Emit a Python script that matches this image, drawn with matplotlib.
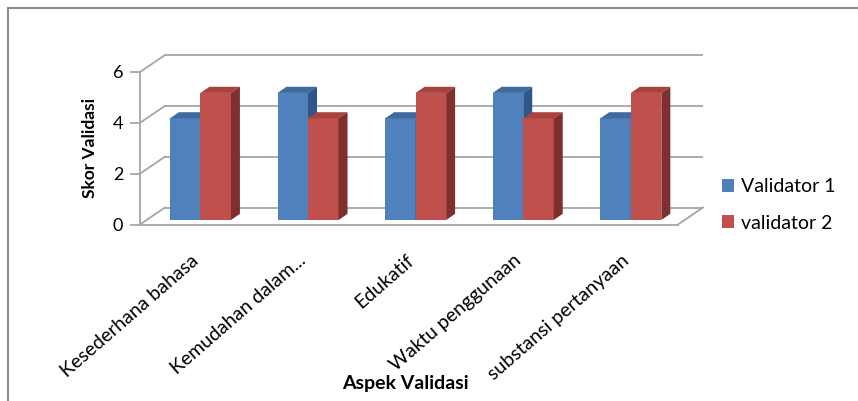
import numpy as np
import matplotlib
matplotlib.use("Agg")
import matplotlib.pyplot as plt
from matplotlib.patches import Polygon, Patch
from matplotlib.lines import Line2D

plt.rcParams['font.family'] = ['Lato', 'DejaVu Sans']

# data
categories = ["Kesederhana bahasa", "Kemudahan dalam...", "Edukatif",
              "Waktu penggunaan", "substansi pertanyaan"]
validator1 = [4, 5, 4, 5, 4]
validator2 = [5, 4, 5, 4, 5]
series_names = ["Validator 1", "validator 2"]
yticks = [0, 2, 4, 6]

# colours (front, top, side)
blue = ("#4F81BD", "#3E6A9E", "#2F5688")
red = ("#C0504D", "#A8423F", "#7D302E")
grid_c = "#A6A6A6"

W, H = 858, 401
fig = plt.figure(figsize=(W / 100, H / 100), dpi=100)

# front plane of the 3d box, in pixels
x0p, x1p, y0p, y1p = 140, 678, 224.5, 72
ax = fig.add_axes([x0p / W, 1 - y0p / H, (x1p - x0p) / W, (y0p - y1p) / H])
ax.set_xlim(-0.5, 4.5)
ax.set_ylim(0, 6)

# depth of the box in data units
px_x = (x1p - x0p) / 5.0
px_y = (y0p - y1p) / 6.0
dx = 25 / px_x
dy = 17 / px_y

# walls / gridlines
for v in yticks:
    ax.plot([-0.5 + dx, 4.5 + dx], [v + dy, v + dy], color=grid_c, lw=1.3,
            clip_on=False, zorder=1, solid_capstyle='butt')
    ax.plot([-0.5, -0.5 + dx], [v, v + dy], color=grid_c, lw=1.3,
            clip_on=False, zorder=1)
ax.plot([4.5, 4.5 + dx], [0, dy], color=grid_c, lw=1.3, clip_on=False, zorder=1)

# bars
bw = 30.5 / px_x
f0, f1 = 0.265, 0.625
bdx, bdy = (f1 - f0) * dx, (f1 - f0) * dy
sx, sy = f0 * dx, f0 * dy
xs = np.arange(len(categories))

for i in range(len(categories)):
    for vals, col, off in ((validator1, blue, -bw), (validator2, red, 0.0)):
        xl = xs[i] + off + sx
        xr = xl + bw
        bot = sy
        top = sy + vals[i]
        ax.bar(xl, vals[i], width=bw, bottom=bot, align='edge', color=col[0],
               edgecolor='none', zorder=3, clip_on=False)
        ax.add_patch(Polygon([[xl, top], [xr, top], [xr + bdx, top + bdy],
                              [xl + bdx, top + bdy]], closed=True,
                             facecolor=col[1], edgecolor='none', zorder=3,
                             clip_on=False))
        ax.add_patch(Polygon([[xr, bot], [xr + bdx, bot + bdy],
                              [xr + bdx, top + bdy], [xr, top]], closed=True,
                             facecolor=col[2], edgecolor='none', zorder=3,
                             clip_on=False))

# axes styling
for s in ('top', 'right'):
    ax.spines[s].set_visible(False)
ax.spines['left'].set_color(grid_c)
ax.spines['bottom'].set_color(grid_c)
ax.spines['left'].set_linewidth(1.3)
ax.spines['bottom'].set_linewidth(1.3)
ax.set_facecolor('none')
ax.set_yticks(yticks)
ax.set_yticklabels([str(v) for v in yticks], fontsize=13)
ax.tick_params(axis='y', length=7, width=1.3, color=grid_c, pad=5)
ax.set_xticks(xs)
ax.set_xticklabels([])
ax.tick_params(axis='x', length=0)

for i, lab in enumerate(categories):
    ax.text(xs[i] + 0.02, -0.22, lab, transform=ax.get_xaxis_transform(),
            rotation=41, rotation_mode='anchor', ha='right', va='center',
            fontsize=14)

fig.text(90 / W, 1 - 148 / H, "Skor Validasi", rotation=90, ha='center',
         va='center', fontsize=12.5, fontweight='bold')
fig.text(405 / W, 1 - 384 / H, "Aspek Validasi", ha='center', va='center',
         fontsize=14, fontweight='bold')

handles = [Patch(facecolor=blue[0]), Patch(facecolor=red[0])]
fig.legend(handles, series_names, loc='center left',
           bbox_to_anchor=(704 / W, 1 - 205 / H), frameon=False, fontsize=14,
           handlelength=0.65, handleheight=0.65, handletextpad=0.35,
           labelspacing=1.0)

# outer frame (left and top edges)
frame_c = "#8C8C8C"
fig.add_artist(Line2D([8 / W, 8 / W], [0, 1 - 8 / H], color=frame_c, lw=1.5))
fig.add_artist(Line2D([8 / W, 1], [1 - 8 / H, 1 - 8 / H], color=frame_c, lw=1.5))

fig.savefig("out.png", dpi=100)
